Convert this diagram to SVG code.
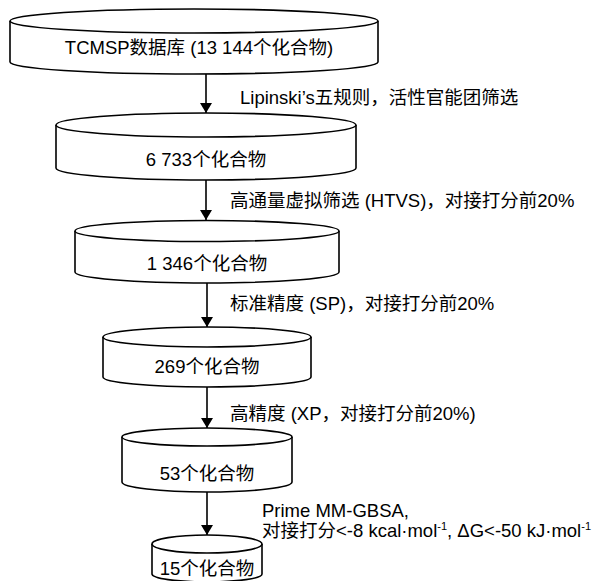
<svg xmlns="http://www.w3.org/2000/svg" width="595" height="581" viewBox="0 0 595 581">
<style>
.cyl{fill:#fff;stroke:#000;stroke-width:1.6}
.cn{stroke:#000;stroke-width:1.6;fill:none}
text{font-family:"Liberation Sans","Noto Sans CJK SC",sans-serif;font-size:18.5px;fill:#000}
.c{text-anchor:middle}
</style>
<defs>
<marker id="ah" viewBox="0 0 10 12" refX="10" refY="6" markerWidth="10" markerHeight="12" markerUnits="userSpaceOnUse" orient="auto">
<path d="M0,0 L10,6 L0,12 Z" fill="#000"/>
</marker>
</defs>
<rect width="595" height="581" fill="#fff"/>
<g id="n1">
<path class="cyl" d="M10,21 V62 A184,12 0 0 0 378,62 V21"/>
<ellipse class="cyl" cx="194" cy="21" rx="184" ry="12"/>
<text class="c" x="199" y="54">TCMSP数据库 (13 144个化合物)</text>
</g>
<g id="n2">
<path class="cyl" d="M56,125 V168 A150,12 0 0 0 356,168 V125"/>
<ellipse class="cyl" cx="206" cy="125" rx="150" ry="12"/>
<text class="c" x="206" y="166">6 733个化合物</text>
</g>
<g id="n3">
<path class="cyl" d="M75,231 V272 A132,11 0 0 0 339,272 V231"/>
<ellipse class="cyl" cx="207" cy="231" rx="132" ry="10.5"/>
<text class="c" x="207" y="270">1 346个化合物</text>
</g>
<g id="n4">
<path class="cyl" d="M103,337 V377 A104,10 0 0 0 311,377 V337"/>
<ellipse class="cyl" cx="207" cy="337" rx="104" ry="10"/>
<text class="c" x="207" y="373">269个化合物</text>
</g>
<g id="n5">
<path class="cyl" d="M122,437 V482 A85,10 0 0 0 292,482 V437"/>
<ellipse class="cyl" cx="207" cy="437" rx="85" ry="9"/>
<text class="c" x="207" y="480">53个化合物</text>
</g>
<g id="n6">
<path class="cyl" d="M152,544 V574 A55,8 0 0 0 262,574 V544"/>
<ellipse class="cyl" cx="207" cy="544" rx="55" ry="9"/>
<text class="c" x="207" y="575">15个化合物</text>
</g>
<g id="connectors">
<line class="cn" x1="206" y1="74" x2="206" y2="113" marker-end="url(#ah)"/>
<line class="cn" x1="206" y1="180" x2="206" y2="220" marker-end="url(#ah)"/>
<line class="cn" x1="207" y1="283" x2="207" y2="327" marker-end="url(#ah)"/>
<line class="cn" x1="207" y1="387" x2="207" y2="428" marker-end="url(#ah)"/>
<line class="cn" x1="207" y1="492" x2="207" y2="535" marker-end="url(#ah)"/>
</g>
<g id="labels">
<text x="240" y="104">Lipinski’s五规则，活性官能团筛选</text>
<text x="230" y="207">高通量虚拟筛选 (HTVS)，对接打分前20%</text>
<text x="230" y="310">标准精度 (SP)，对接打分前20%</text>
<text x="230" y="420">高精度 (XP，对接打分前20%)</text>
<text x="262" y="517">Prime MM-GBSA,</text>
<text x="262" y="537">对接打分&lt;-8 kcal·mol<tspan font-size="11" dy="-7">-1</tspan><tspan dy="7">, ΔG&lt;-50 kJ·mol</tspan><tspan font-size="11" dy="-7">-1</tspan></text>
</g>
</svg>
